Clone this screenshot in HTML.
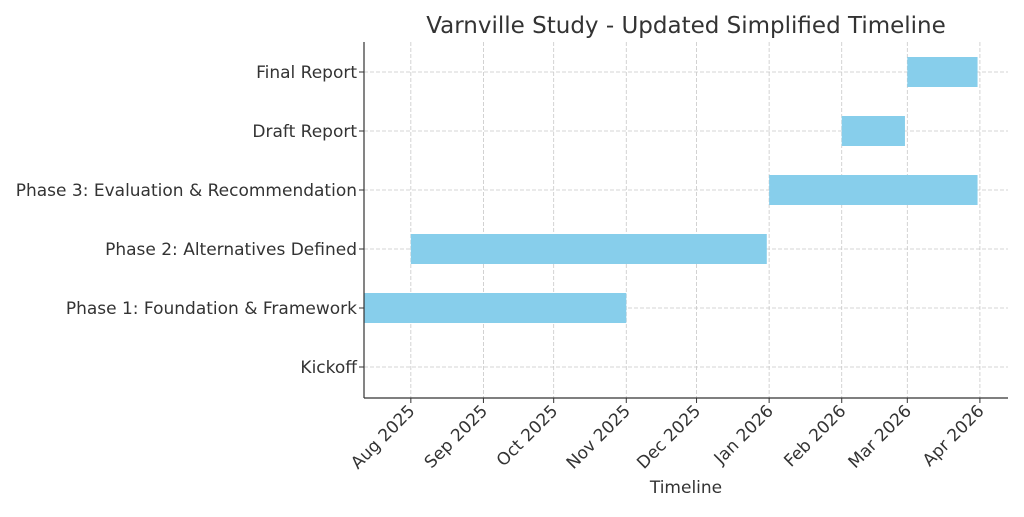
<!DOCTYPE html>
<html><head><meta charset="utf-8">
<style>
body{margin:0;background:#fff;width:1024px;height:512px;overflow:hidden;font-family:"Liberation Sans","DejaVu Sans",sans-serif;}
svg text{font-family:"DejaVu Sans","Liberation Sans",sans-serif;fill:#333;}
</style></head>
<body>
<svg id="chart" width="1024" height="512" viewBox="0 0 1024 512" xmlns="http://www.w3.org/2000/svg">
<text x="686" y="33" font-size="23" text-anchor="middle">Varnville Study - Updated Simplified Timeline</text>
<g id="grid"></g><g id="bars"></g><g id="axes"></g>
<text x="686" y="493" font-size="17" text-anchor="middle">Timeline</text>
</svg>
<script>
const tasks = ["Kickoff","Phase 1: Foundation & Framework","Phase 2: Alternatives Defined","Phase 3: Evaluation & Recommendation","Draft Report","Final Report"];
const starts = ["2025-07-12","2025-07-12","2025-08-01","2026-01-01","2026-02-01","2026-03-01"];
const ends = ["2025-07-12","2025-11-01","2025-12-31","2026-03-31","2026-02-28","2026-03-31"];
const tickDates = ["2025-08-01","2025-09-01","2025-10-01","2025-11-01","2025-12-01","2026-01-01","2026-02-01","2026-03-01","2026-04-01"];
const tickLabels = ["Aug 2025","Sep 2025","Oct 2025","Nov 2025","Dec 2025","Jan 2026","Feb 2026","Mar 2026","Apr 2026"];
const domainStart = "2025-07-12", domainEnd = "2026-04-13";

const NS="http://www.w3.org/2000/svg";
const X0=364,X1=1008,Y0=42,Y1=398;
const t=d=>new Date(d+"T00:00:00Z").getTime();
const x=d=>X0+(t(d)-t(domainStart))/(t(domainEnd)-t(domainStart))*(X1-X0);
const y=i=>367-i*59;
function mk(tag,attrs,parent){const e=document.createElementNS(NS,tag);for(const k in attrs)e.setAttribute(k,attrs[k]);parent.appendChild(e);return e;}
const grid=document.getElementById('grid'),bars=document.getElementById('bars'),axes=document.getElementById('axes');
tickDates.forEach((d,i)=>{
  const g=mk('line',{x1:x(d),x2:x(d),y1:Y0,y2:Y1,stroke:'#c8c8c8','stroke-dasharray':'4,2','stroke-width':0.8},grid);
  
  
  mk('line',{x1:x(d),x2:x(d),y1:Y1,y2:Y1+5,stroke:'#333'},axes);
  const tx=mk('text',{x:x(d)+5,y:Y1+14,'font-size':17,'text-anchor':'end',transform:`rotate(-45 ${x(d)+5} ${Y1+14})`},axes);
  tx.textContent=tickLabels[i];
  
  
});
tasks.forEach((name,i)=>{
  const g=mk('line',{x1:X0,x2:X1,y1:y(i),y2:y(i),stroke:'#c8c8c8','stroke-dasharray':'4,2','stroke-width':0.8},grid);
  
  
  const w=x(ends[i])-x(starts[i]);
  if(w>0){
    const r=mk('rect',{x:x(starts[i]),y:y(i)-15,width:w,height:30,fill:'#87ceeb'},bars);
    
    
  }
  mk('line',{x1:X0-5,x2:X0,y1:y(i),y2:y(i),stroke:'#333'},axes);
  const tx=mk('text',{x:X0-7,y:y(i)+6,'font-size':17,'text-anchor':'end'},axes);
  tx.textContent=name;
  
  
});
const l=mk('line',{x1:X0,x2:X0,y1:Y0,y2:Y1,stroke:'#333','stroke-width':1.2},axes);


const b=mk('line',{x1:X0,x2:X1,y1:Y1,y2:Y1,stroke:'#333','stroke-width':1.2},axes);


</script>
</body></html>
